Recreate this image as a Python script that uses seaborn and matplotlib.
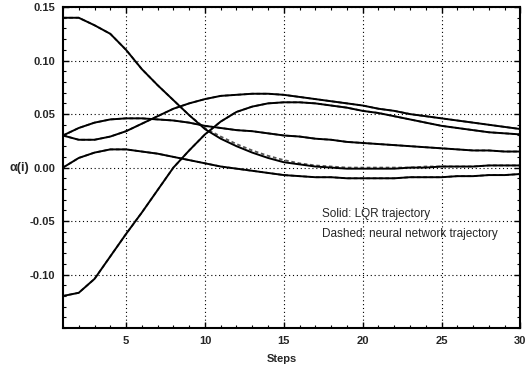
import numpy as np
import pandas as pd
import matplotlib
matplotlib.use("Agg")
import matplotlib.pyplot as plt
import seaborn as sns
from matplotlib.ticker import MultipleLocator

steps = list(range(1, 31))

# LQR (solid) trajectories
lqr_a1 = [0.140, 0.140, 0.133, 0.125, 0.110, 0.092, 0.077, 0.063, 0.049, 0.036,
          0.027, 0.020, 0.014, 0.009, 0.005, 0.003, 0.001, 0.000, -0.001, -0.001,
          -0.001, -0.001, 0.000, 0.000, 0.001, 0.001, 0.001, 0.002, 0.002, 0.002]
lqr_a2 = [0.030, 0.026, 0.026, 0.029, 0.034, 0.041, 0.048, 0.055, 0.060, 0.064,
          0.067, 0.068, 0.069, 0.069, 0.068, 0.066, 0.064, 0.062, 0.060, 0.058,
          0.055, 0.053, 0.050, 0.048, 0.046, 0.044, 0.042, 0.040, 0.038, 0.036]
lqr_a3 = [0.030, 0.037, 0.042, 0.045, 0.046, 0.046, 0.045, 0.044, 0.042, 0.039,
          0.037, 0.035, 0.034, 0.032, 0.030, 0.029, 0.027, 0.026, 0.024, 0.023,
          0.022, 0.021, 0.020, 0.019, 0.018, 0.017, 0.016, 0.016, 0.015, 0.015]
lqr_a4 = [-0.120, -0.117, -0.104, -0.083, -0.062, -0.042, -0.021, 0.000, 0.016, 0.031,
          0.043, 0.052, 0.057, 0.060, 0.061, 0.061, 0.060, 0.058, 0.056, 0.053,
          0.051, 0.048, 0.045, 0.042, 0.039, 0.037, 0.035, 0.033, 0.032, 0.031]
lqr_a5 = [0.000, 0.009, 0.014, 0.017, 0.017, 0.015, 0.013, 0.010, 0.007, 0.004,
          0.001, -0.001, -0.003, -0.005, -0.007, -0.008, -0.009, -0.009, -0.010, -0.010,
          -0.010, -0.010, -0.009, -0.009, -0.009, -0.008, -0.008, -0.007, -0.007, -0.006]

# Neural network (dashed) trajectories - nearly identical
nn_a1 = [0.140, 0.140, 0.133, 0.125, 0.110, 0.092, 0.077, 0.063, 0.049, 0.037,
         0.029, 0.022, 0.016, 0.011, 0.007, 0.004, 0.002, 0.001, 0.000, 0.000,
         0.000, 0.000, 0.000, 0.001, 0.001, 0.001, 0.001, 0.002, 0.002, 0.002]
nn_a2 = lqr_a2
nn_a3 = lqr_a3
nn_a4 = lqr_a4
nn_a5 = lqr_a5

series = {
    ("LQR", "a1"): lqr_a1, ("LQR", "a2"): lqr_a2, ("LQR", "a3"): lqr_a3,
    ("LQR", "a4"): lqr_a4, ("LQR", "a5"): lqr_a5,
    ("NN", "a1"): nn_a1, ("NN", "a2"): nn_a2, ("NN", "a3"): nn_a3,
    ("NN", "a4"): nn_a4, ("NN", "a5"): nn_a5,
}
rows = []
for (ctrl, comp), vals in series.items():
    for s, v in zip(steps, vals):
        rows.append({"Steps": s, "alpha": v, "ctrl": ctrl, "comp": comp})
df = pd.DataFrame(rows)

sns.set_style("ticks")
plt.rcParams["font.family"] = ["Liberation Sans", "DejaVu Sans"]
plt.rcParams["axes.unicode_minus"] = False

fig = plt.figure(figsize=(5.27, 3.72), dpi=100)
ax = fig.add_axes([0.1195, 0.118, 0.868, 0.863])

for comp in ["a1", "a2", "a3", "a4", "a5"]:
    sub = df[(df.ctrl == "NN") & (df.comp == comp)]
    sns.lineplot(data=sub, x="Steps", y="alpha", ax=ax, color="#555555",
                 linewidth=1.3, linestyle=(0, (2, 1.5)), legend=False)
for comp in ["a1", "a2", "a3", "a4", "a5"]:
    sub = df[(df.ctrl == "LQR") & (df.comp == comp)]
    sns.lineplot(data=sub, x="Steps", y="alpha", ax=ax, color="black",
                 linewidth=1.4, legend=False)

ax.set_xlim(1, 30)
ax.set_ylim(-0.15, 0.15)
ax.set_xticks([5, 10, 15, 20, 25, 30])
ax.set_yticks([-0.10, -0.05, 0.00, 0.05, 0.10, 0.15])
ax.set_yticklabels(["-0.10", "-0.05", "0.00", "0.05", "0.10", "0.15"])
ax.xaxis.set_minor_locator(MultipleLocator(1))
ax.yaxis.set_minor_locator(MultipleLocator(0.01))
ax.tick_params(which="both", direction="in", top=True, right=True, color="black")
ax.tick_params(which="major", length=4, width=1.0, labelsize=8, pad=5.8)
ax.tick_params(which="minor", length=2.5, width=0.8)
for lab in ax.get_xticklabels() + ax.get_yticklabels():
    lab.set_fontweight("bold")

ax.grid(True, which="major", color="black", linestyle=(0, (1, 2.5)), linewidth=0.8)
for sp in ax.spines.values():
    sp.set_linewidth(1.5)
    sp.set_color("black")

ax.set_xlabel("Steps", fontsize=8, fontweight="bold", ha="center", va="center")
ax.xaxis.set_label_coords(0.479, -0.097)
ax.set_ylabel("α(i)", fontsize=9, fontweight="bold", rotation=0, ha="center", va="center")
ax.yaxis.set_label_coords(-0.096, 0.5)

ax.text(0.567, 0.355, "Solid: LQR trajectory", transform=ax.transAxes,
        fontsize=8.5, va="center", ha="left")
ax.text(0.567, 0.293, "Dashed: neural network trajectory", transform=ax.transAxes,
        fontsize=8.5, va="center", ha="left")

fig.savefig("out.png", dpi=100)
